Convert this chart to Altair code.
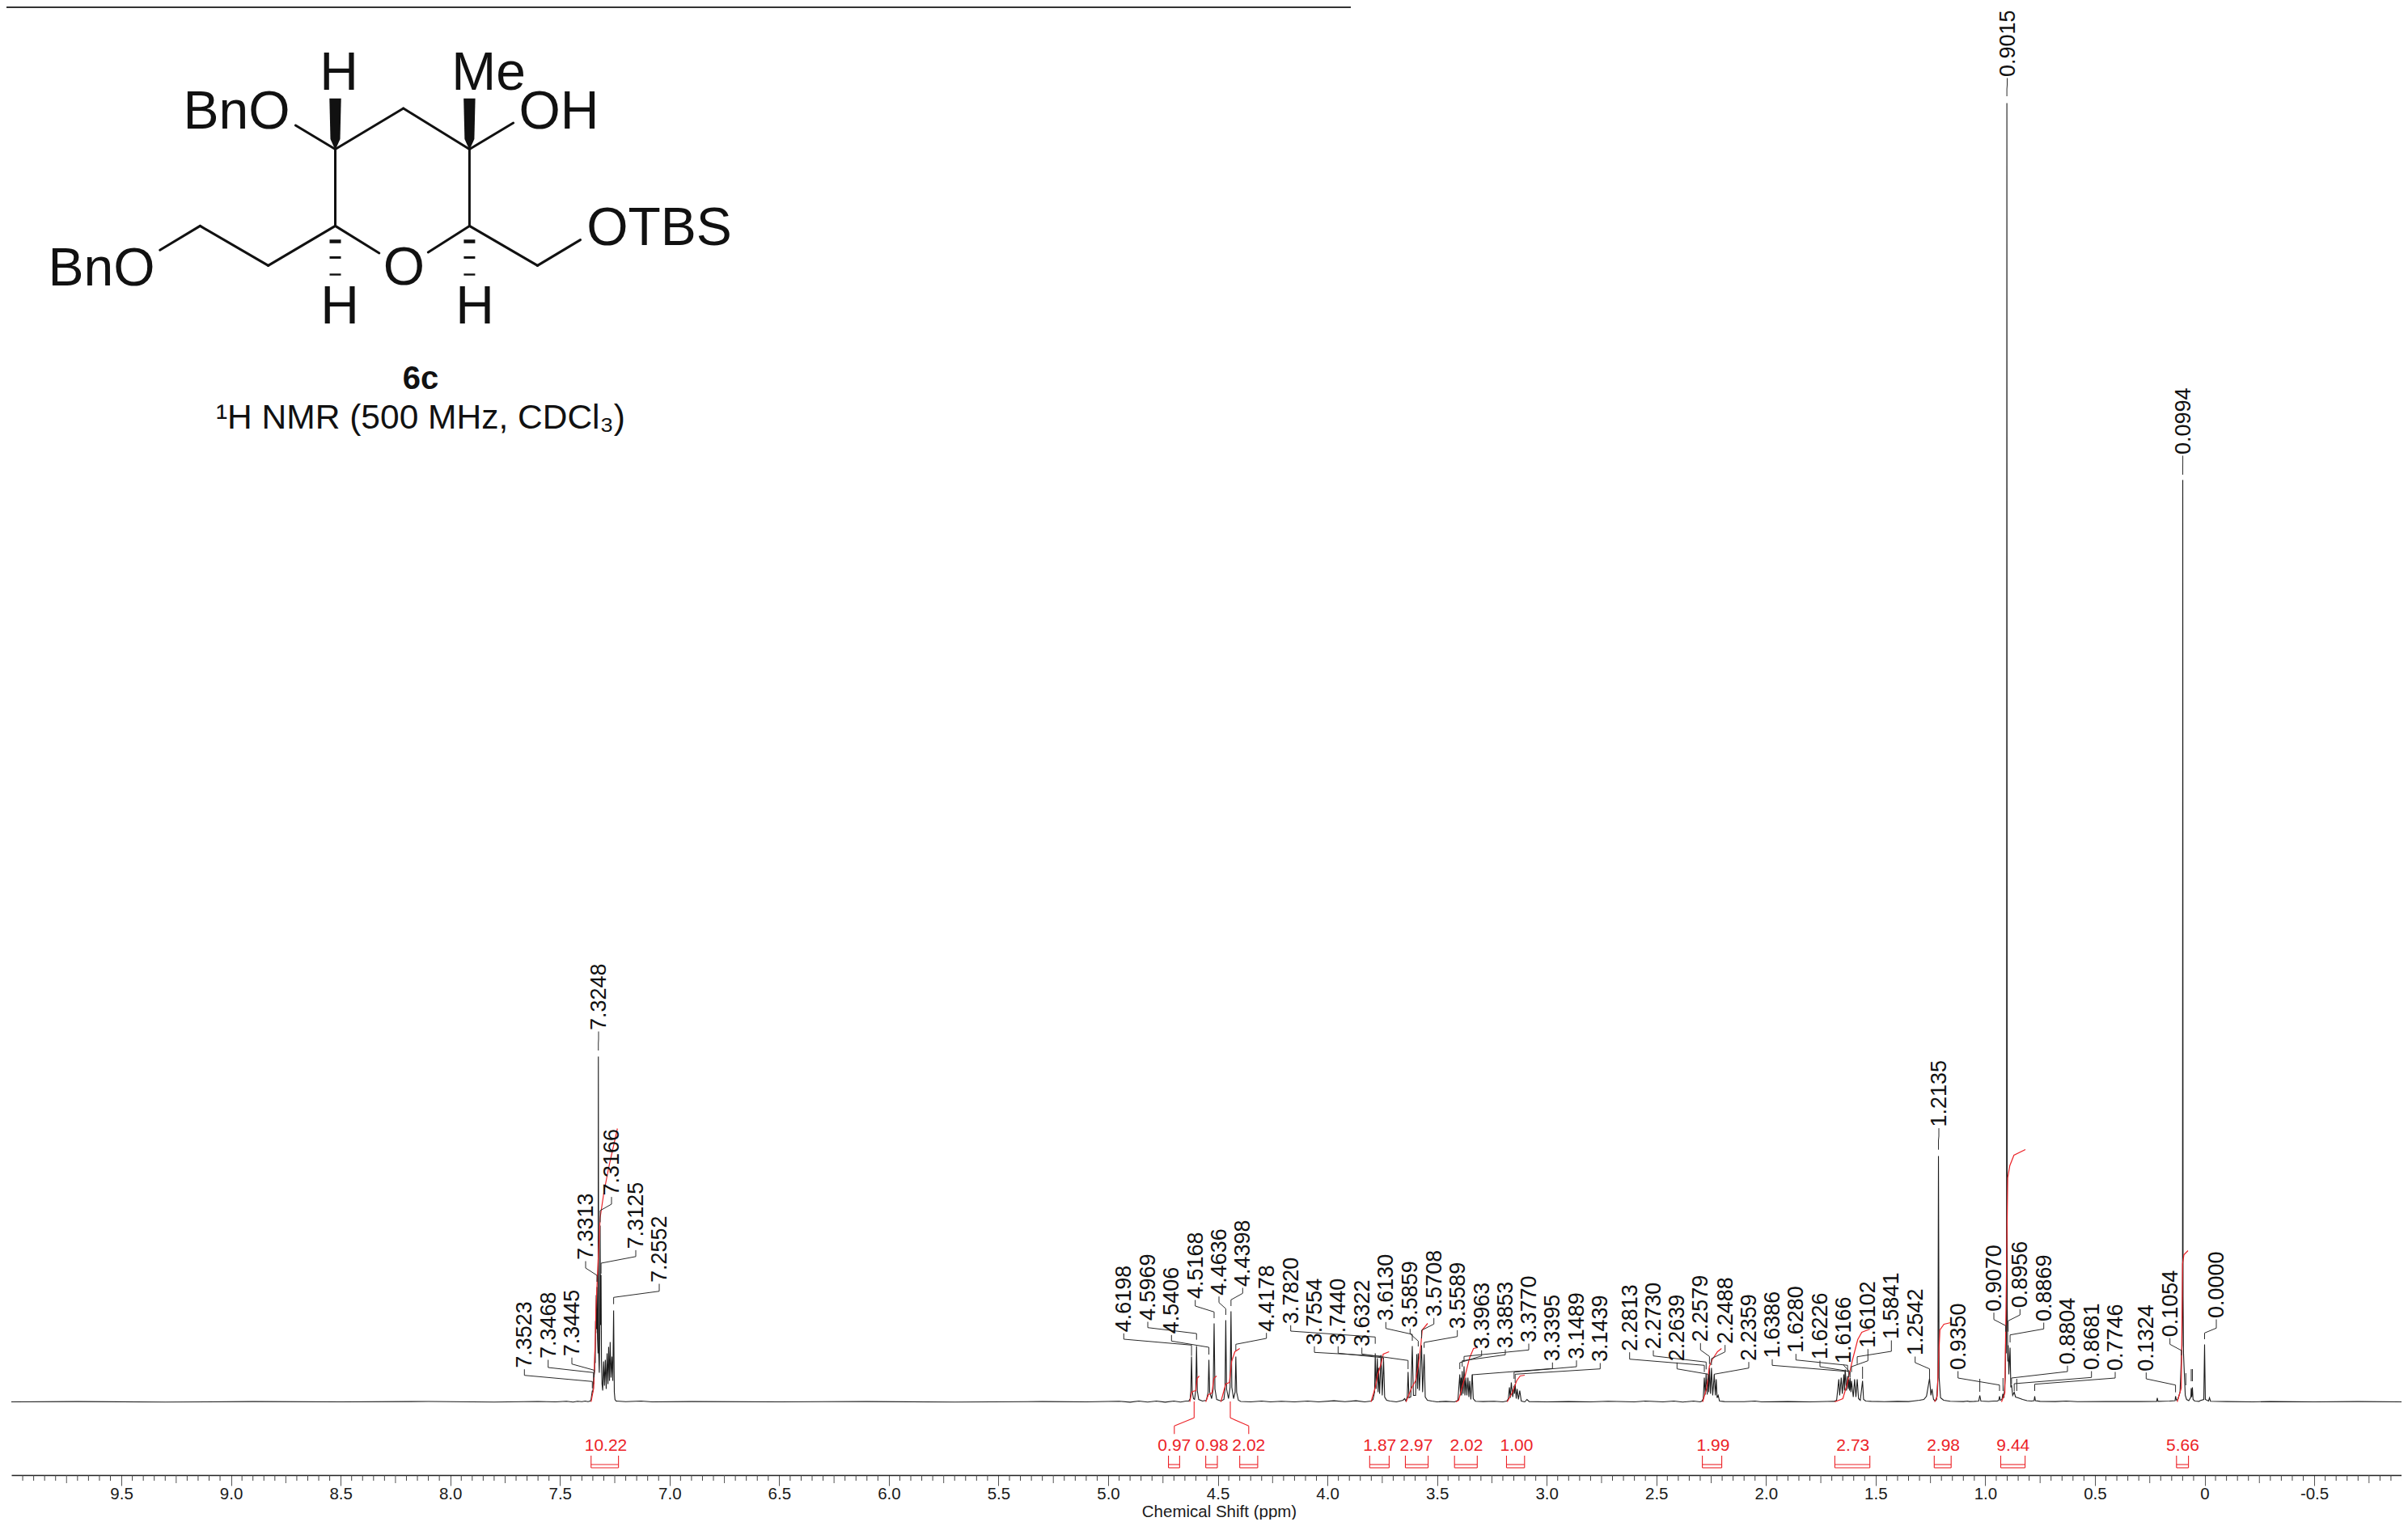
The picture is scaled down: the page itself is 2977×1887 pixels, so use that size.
import altair as alt
import pandas as pd

FONT = "Liberation Sans"
INK = "#1c1c1c"
RED = "#ec2227"
PLOT_W, PLOT_H = 2955, 1816
X_ZERO, PX_PER_PPM, LEFT, BASELINE, TOP = 2725.5, 271.1, 14, 1733.5, 8


def ppm_at(px):
    return (X_ZERO - px) / PX_PER_PPM


def val_at(py):
    return BASELINE - py


# ---------- spectrum, (ppm, height) ----------
noise_left = [(ppm_at(LEFT), 0), (9.7, 0.4), (9.3, -0.3), (8.9, 0.4), (8.5, 0), (8.1, 0.5), (7.8, -0.3), (7.6, 0.5),
              (7.52, 0), (7.47, 0.8), (7.44, -0.3)]
aromatic = [(7.42, 0.8), (7.40, 0.3), (7.385, 1), (7.372, 0.2), (7.362, 1), (7.358, 3), (7.3555, 8), (7.3523, 14),
            (7.350, 12), (7.3468, 27), (7.3457, 22), (7.3445, 32), (7.342, 38), (7.3405, 62), (7.339, 48),
            (7.3375, 100), (7.336, 85), (7.3345, 132), (7.3328, 90), (7.3313, 142), (7.3285, 78), (7.3262, 60),
            (7.3248, 427), (7.3232, 60), (7.3205, 36), (7.3185, 80), (7.3166, 218), (7.3150, 95), (7.3125, 157),
            (7.3105, 50), (7.308, 22), (7.305, 14), (7.301, 50), (7.297, 20), (7.293, 52), (7.289, 16), (7.285, 60),
            (7.281, 22), (7.278, 68), (7.274, 26), (7.271, 74), (7.267, 30), (7.263, 56), (7.259, 26), (7.2552, 113),
            (7.252, 12), (7.249, 3), (7.244, 1), (7.20, 0.3), (7.13, 1), (7.08, 0)]
noise_mid_1 = [(6.9, 0.4), (6.5, 0), (6.1, 0.4), (5.7, -0.2), (5.3, 0.4), (5.1, 0), (4.95, 0.8), (4.9, -0.4),
               (4.86, 1), (4.82, -0.3), (4.78, 1), (4.74, -0.4), (4.70, 1), (4.67, -0.3), (4.645, 1)]
benzylic = [(4.632, 1), (4.626, 4), (4.623, 13), (4.6198, 56), (4.6165, 13), (4.611, 4), (4.606, 3), (4.6005, 14),
            (4.5969, 69), (4.5935, 14), (4.587, 3), (4.570, 1), (4.552, 2), (4.544, 12), (4.5406, 52), (4.537, 12),
            (4.528, 4), (4.521, 16), (4.5168, 97), (4.513, 16), (4.505, 3), (4.485, 1), (4.472, 3), (4.467, 16),
            (4.4636, 101), (4.460, 16), (4.451, 4), (4.444, 18), (4.4398, 112), (4.436, 18), (4.428, 4), (4.421, 12),
            (4.4178, 56), (4.414, 12), (4.406, 2), (4.395, 0.5)]
noise_mid_2 = [(4.35, 0), (4.30, 1), (4.26, 0), (4.21, 0.8), (4.15, 0), (4.09, 1), (4.04, 0), (3.97, 1.4),
               (3.92, 0.2), (3.87, 1.4), (3.83, 0)]
methine_a = [(3.80, 1), (3.792, 3), (3.785, 12), (3.7820, 60), (3.778, 16), (3.7725, 54), (3.769, 12), (3.7670, 42),
             (3.762, 10), (3.7554, 58), (3.750, 8), (3.7440, 52), (3.739, 6), (3.730, 2), (3.715, 1), (3.685, 0),
             (3.655, 2), (3.648, 4), (3.642, 1), (3.636, 6), (3.6322, 37), (3.628, 5), (3.620, 6), (3.6130, 69),
             (3.608, 8), (3.598, 8), (3.5925, 59), (3.589, 16), (3.5859, 60), (3.581, 14), (3.5708, 70), (3.566, 12),
             (3.5589, 59), (3.554, 6), (3.544, 2), (3.525, 1), (3.50, 0), (3.46, 0.6)]
methine_b = [(3.42, 0), (3.405, 2), (3.3963, 34), (3.393, 8), (3.3905, 30), (3.388, 8), (3.3853, 38), (3.381, 10),
             (3.3770, 44), (3.373, 8), (3.3690, 30), (3.364, 8), (3.3595, 30), (3.355, 6), (3.3510, 26), (3.346, 3),
             (3.3395, 34), (3.335, 4), (3.325, 0.8), (3.29, 0.4), (3.24, 0.8), (3.20, 0), (3.182, 1), (3.175, 4),
             (3.170, 18), (3.166, 5), (3.1615, 24), (3.155, 6), (3.1489, 20), (3.147, 10), (3.1439, 22), (3.139, 4),
             (3.135, 16), (3.129, 3), (3.123, 14), (3.116, 1), (3.10, 0), (3.09, 3), (3.08, 0.4)]
noise_mid_3 = [(3.0, 0), (2.9, 0.4), (2.8, 0), (2.72, 0.8), (2.6, 0), (2.55, 1), (2.47, 0), (2.42, 1), (2.38, -0.3),
               (2.33, 1), (2.30, 0)]
methylene_a = [(2.292, 1), (2.286, 4), (2.2813, 30), (2.277, 9), (2.2730, 35), (2.268, 9), (2.2639, 34), (2.261, 12),
               (2.2579, 42), (2.253, 10), (2.2488, 42), (2.243, 8), (2.2359, 34), (2.231, 8), (2.2270, 28),
               (2.223, 5), (2.218, 8), (2.212, 1), (2.19, 0.4), (2.1, 0.2), (2.05, 1), (2.02, 0), (1.9, 0.4), (1.8, 0),
               (1.72, 0.5)]
methylene_b = [(1.69, 0.6), (1.678, 2), (1.668, 28), (1.664, 8), (1.657, 30), (1.652, 10), (1.645, 34), (1.642, 14),
               (1.6386, 40), (1.633, 14), (1.6280, 32), (1.625, 16), (1.6226, 28), (1.619, 14), (1.6166, 30),
               (1.613, 12), (1.6102, 26), (1.602, 6), (1.596, 28), (1.590, 6), (1.5841, 28), (1.578, 4), (1.570, 2),
               (1.5597, 26), (1.555, 3), (1.545, 1), (1.52, 0.6), (1.46, 0.2), (1.40, 0.6), (1.35, 0.4)]
methyl = [(1.33, 1), (1.30, 2), (1.28, 3), (1.268, 7), (1.2542, 29), (1.2480, 8), (1.2430, 16), (1.236, 3),
          (1.228, 1), (1.222, 3), (1.2160, 30), (1.2135, 304), (1.2105, 30), (1.204, 5), (1.19, 2), (1.16, 0.8),
          (1.10, 0.4), (1.08, 1), (1.073, 0.4), (1.05, 0.6), (1.03, 1), (1.025, 8), (1.02, 1), (0.985, 0.5),
          (0.96, 1)]
silyl_tbu = [(0.945, 1), (0.9385, 2), (0.9350, 7), (0.9315, 2), (0.924, 3), (0.9198, 10), (0.915, 5), (0.9090, 30),
             (0.9070, 80), (0.9045, 60), (0.9030, 120), (0.9015, 1606), (0.9000, 120), (0.8975, 50), (0.8956, 70),
             (0.8925, 34), (0.8869, 67), (0.8835, 18), (0.8804, 21), (0.875, 8), (0.8681, 12), (0.862, 6), (0.85, 5),
             (0.83, 3), (0.81, 1.5), (0.79, 1), (0.7775, 1.5), (0.7746, 7), (0.7715, 1.5), (0.75, 0.6), (0.68, 0.4),
             (0.63, 1), (0.58, 0.3), (0.45, 0.4)]
silyl_me = [(0.30, 0.4), (0.2185, 0.6), (0.2157, 5), (0.2125, 0.6), (0.19, 0.8), (0.16, 1), (0.1345, 1.5),
            (0.1324, 7), (0.128, 2), (0.122, 3), (0.112, 12), (0.1054, 57), (0.1025, 70), (0.1005, 130),
            (0.0994, 1140), (0.0980, 130), (0.096, 60), (0.0925, 36), (0.088, 8), (0.082, 3), (0.072, 1.5),
            (0.0625, 6), (0.0609, 17), (0.0585, 6), (0.0555, 18), (0.0525, 3), (0.045, 1), (0.025, 0.6), (0.0205, 1.5),
            (0.0035, 3), (0.0, 71), (-0.0035, 3), (-0.018, 1), (-0.0225, 5), (-0.027, 0.8)]
noise_right = [(-0.1, 0.4), (-0.22, 0), (-0.3, 0.4), (-0.5, 0), (-0.7, 0.4), (ppm_at(LEFT + PLOT_W), 0)]

spectrum_regions = [noise_left, aromatic, noise_mid_1, benzylic, noise_mid_2, methine_a, methine_b, noise_mid_3,
                    methylene_a, methylene_b, methyl, silyl_tbu, silyl_me, noise_right]
spectrum = pd.DataFrame(
    [p for region in spectrum_regions for p in region], columns=["ppm", "h"]
).assign(i=lambda d: range(len(d)))

# ---------- integrals, (ppm, curve height) ----------
integral_curves = [
    [(7.358, 0), (7.346, 17), (7.338, 84), (7.336, 114), (7.317, 227), (7.299, 260), (7.275, 293), (7.238, 338)],
    [(4.6275, 0), (4.619, 12), (4.6128, 13), (4.600, 14), (4.594, 29), (4.585, 32)],
    [(4.555, 0), (4.5427, 9), (4.5266, 11), (4.518, 29), (4.5057, 32)],
    [(4.486, 0), (4.464, 22), (4.447, 24), (4.437, 50), (4.422, 62), (4.40, 66)],
    [(3.8013, 0), (3.7826, 17), (3.7704, 34), (3.7555, 47), (3.7457, 59), (3.7189, 62)],
    [(3.6414, 0), (3.6168, 17), (3.598, 26), (3.586, 44), (3.5737, 71), (3.5677, 89), (3.5429, 97)],
    [(3.414, 0), (3.4016, 2), (3.3769, 27), (3.3524, 54), (3.3338, 66), (3.3154, 67)],
    [(3.1803, 0), (3.1557, 12), (3.1372, 26), (3.1213, 32), (3.1003, 33)],
    [(2.2888, 0), (2.2704, 17), (2.2581, 44), (2.2457, 52), (2.2213, 62), (2.2028, 66)],
    [(1.6864, 0), (1.6495, 4), (1.6311, 21), (1.6064, 51), (1.5817, 77), (1.5633, 86), (1.5264, 90)],
    [(1.2313, 0), (1.2191, 7), (1.2129, 54), (1.2068, 89), (1.1885, 96), (1.1576, 98)],
    [(0.9259, 0), (0.9107, 11), (0.8977, 277), (0.8882, 292), (0.8694, 305), (0.8171, 312)],
    [(0.1247, 0), (0.1062, 17), (0.1003, 171), (0.0941, 182), (0.0756, 187)],
]
integral_df = pd.DataFrame(
    [(k, j, p, h) for k, curve in enumerate(integral_curves) for j, (p, h) in enumerate(curve)],
    columns=["k", "j", "ppm", "h"],
)
integral_values = ["10.22", "0.97", "0.98", "2.02", "1.87", "2.97", "2.02", "1.00", "1.99", "2.73", "2.98", "9.44", "5.66"]
integral_from = [7.358, 4.725, 4.555, 4.400, 3.8074, 3.6445, 3.4205, 3.1834, 2.2903, 1.6861, 1.2328, 0.9296, 0.128]
integral_to = [7.233, 4.674, 4.502, 4.318, 3.7185, 3.5407, 3.3168, 3.1011, 2.2018, 1.5264, 1.1557, 0.8185, 0.0734]
integral_label_x = [749, 1451.8, 1498.2, 1543.8, 1705.8, 1750.9, 1812.9, 1875, 2117.9, 2290.8, 2402.6, 2488.8, 2698.5]
integral_leaders = [[(1476.3, 1733), (1476.3, 1753.3), (1451.8, 1763.2), (1451.8, 1773.2)],
                    [(1521, 1733), (1521, 1753.3), (1543.8, 1763.2), (1543.8, 1773.2)]]

# ---------- peak labels and the layout of their leaders ----------
peak_labels = ["7.3523", "7.3468", "7.3445", "7.3313", "7.3248", "7.3166", "7.3125", "7.2552",
               "4.6198", "4.5969", "4.5406", "4.5168", "4.4636", "4.4398", "4.4178",
               "3.7820", "3.7554", "3.7440", "3.6322", "3.6130", "3.5859", "3.5708", "3.5589",
               "3.3963", "3.3853", "3.3770", "3.3395", "3.1489", "3.1439",
               "2.2813", "2.2730", "2.2639", "2.2579", "2.2488", "2.2359",
               "1.6386", "1.6280", "1.6226", "1.6166", "1.6102", "1.5841", "1.2542", "1.2135",
               "0.9350", "0.9070", "0.9015", "0.8956", "0.8869", "0.8804", "0.8681", "0.7746",
               "0.1324", "0.1054", "0.0994", "0.0000"]
label_x_px = [648.3, 677.7, 707, 724, 740, 756, 786, 815,
              1389.3, 1419, 1448.3, 1477.7, 1507, 1536.3, 1565.7,
              1595.7, 1625, 1654.3, 1683.7, 1713.3, 1743.3, 1772.7, 1801.7,
              1831.7, 1861, 1890, 1919.3, 1949, 1978.3,
              2014.7, 2044, 2073.3, 2102.3, 2132.7, 2162,
              2191, 2220.3, 2250, 2279.3, 2309.3, 2338.3, 2367.7, 2397,
              2420.7, 2465, 2481.5, 2497.3, 2526.7, 2556, 2585.7, 2615,
              2653.3, 2682.7, 2698.6, 2740]
label_foot_y = [1691.7, 1680, 1677.3, 1558, 1274, 1478.6, 1544.4, 1586,
                1647.3, 1633, 1649.3, 1606, 1601.7, 1591, 1646.7,
                1637.3, 1663.3, 1663.3, 1665, 1633.3, 1641.7, 1628.3, 1643.3,
                1668.3, 1667.3, 1660, 1683.3, 1680.7, 1684,
                1670.7, 1668.3, 1683.3, 1659.3, 1661.7, 1682.7,
                1679.3, 1672.7, 1681, 1686, 1666.7, 1656, 1676, 1393.6,
                1694, 1621.7, 95, 1617.3, 1634, 1687.3, 1694, 1695,
                1695.7, 1653.3, 562, 1630]
elbow_a_y = [1700.7, 1691, 1686.7, 1568, 1285, 1489, 1553.8, 1596.7,
             1656, 1641.7, 1658.3, 1615, 1610.7, 1599.3, 1655,
             1646, 1672.3, 1673.3, 1674.3, 1642.7, 1649.3, 1637.3, 1652.7,
             1676.7, 1675.3, 1669.3, 1692.3, 1690, 1692.7,
             1680.7, 1676.7, 1692.7, 1669.3, 1671.7, 1691.7,
             1688.3, 1681.7, 1690, 1688.3, 1682.7, 1671, 1685, 1405,
             1704, 1631.7, 105, 1626, 1643.3, 1696, 1703.3, 1704,
             1705, 1662.3, 572, 1642.3]
elbow_b_y = [1708.3, 1697.3, 1694.3, 1577, 1290, 1497, 1562, 1604.3,
             1663.3, 1649, 1666, 1622.3, 1618.3, 1607.3, 1662.3,
             1653.3, 1677, 1679, 1682.3, 1650, 1658.3, 1645, 1660,
             1685, 1682.7, 1677.3, 1700, 1696.7, 1699.3,
             1688.3, 1684.3, 1699.3, 1677.3, 1680, 1699.3,
             1695.7, 1688.3, 1695.7, 1696.7, 1690, 1677.7, 1692.7, 1410,
             1712.7, 1639.3, 110, 1633.3, 1650.7, 1704, 1711, 1711.7,
             1712.7, 1670, 577, 1648.3]
stub_end_y = [1716.7, 1706.7, 1703.3, 1585, 1299, 1511.5, 1575, 1612.7,
              1676.7, 1656.7, 1675, 1630, 1626, 1615, 1670,
              1661.7, 1682, 1684, 1693, 1658, 1665, 1655, 1666.7,
              1693, 1690, 1683, 1710, 1705, 1710,
              1696.7, 1693.3, 1706.7, 1686.7, 1688, 1706.7,
              1703, 1696.7, 1703, 1703, 1696.7, 1686.7, 1705, 1421.7,
              1720, 1646.7, 119, 1646.7, 1660, 1711.7, 1720, 1720,
              1721.7, 1676, 587, 1656]

# stubs of markers whose labels are not on the page: ppm, then top and bottom on the page
orphan_stub_ppm = [1.5597, 1.025, 0.9192, 0.8565, 0.0855, 0.0609, 0.0555]
orphan_stub_top = [1690, 1705, 1704, 1705, 1698, 1693, 1693]
orphan_stub_end = [1705, 1721, 1720, 1720, 1713, 1708, 1708]

# ---------- molecule (page pixels) ----------
bonds = [
    (414.5, 184.5, 498.7, 134), (498.7, 134, 580.4, 184.5), (414.5, 184.5, 414.5, 279.4), (580.4, 184.5, 580.4, 279.4),
    (414.5, 279.4, 468.8, 313), (580.4, 279.4, 529.3, 312), (365.4, 155, 414.5, 184.5), (634.6, 152, 580.4, 184.5),
    (414.5, 279.4, 331.6, 328.4), (331.6, 328.4, 247.4, 279.4), (247.4, 279.4, 197.7, 309.2),
    (580.4, 279.4, 664.5, 328.4), (664.5, 328.4, 717.5, 296.6),
]
wedge_outline = [(121.7, 7.2), (172, 6), (184.5, 0.4)]
wedge_centres = [414.5, 580.4]
hashes = [(414.5, 298.5, 4.5), (414.5, 318.4, 3), (414.5, 339.5, 2.4),
          (580.4, 298.5, 4.5), (580.4, 318.4, 3), (580.4, 339.5, 2.4)]
atom_labels = [("BnO", 292.5, 136), ("H", 419, 88), ("Me", 604, 88), ("OH", 691, 136), ("OTBS", 815, 280),
               ("BnO", 125.5, 330), ("O", 499.4, 329), ("H", 420, 377), ("H", 587, 377)]
compound_name = "6c"
experiment = "¹H NMR (500 MHz, CDCl₃)"

# ---------- axis values ----------
major_ticks = [9.5, 9.0, 8.5, 8.0, 7.5, 7.0, 6.5, 6.0, 5.5, 5.0, 4.5, 4.0, 3.5, 3.0, 2.5, 2.0, 1.5, 1.0, 0.5, 0.0, -0.5]
medium_ticks = [k / 100 for k in range(975, -100, -50)]
minor_ticks = [k / 100 for k in range(995, -95, -5) if k % 25 != 0]

x_scale = alt.Scale(domain=[ppm_at(LEFT), ppm_at(LEFT + PLOT_W)], nice=False, zero=False)
y_scale = alt.Scale(domain=[val_at(TOP + PLOT_H), val_at(TOP)], nice=False, zero=False)
X = lambda f: alt.X(f, type="quantitative", scale=x_scale)
Y = lambda f: alt.Y(f, type="quantitative", scale=y_scale, axis=None)

# spectrum + axis
spectrum_layer = alt.Chart(spectrum).mark_line(color=INK, strokeWidth=1.1, clip=True).encode(
    x=alt.X(
        "ppm:Q", scale=x_scale,
        axis=alt.Axis(
            values=major_ticks, title="Chemical Shift (ppm)", grid=False, tickSize=13, tickColor="#555555",
            tickWidth=1, domainColor="#222222", domainWidth=1.4, labelFont=FONT, labelFontSize=20.5,
            labelColor="#1a1a1a", labelPadding=0,
            labelExpr="datum.value === 0 ? '0' : (datum.value < 0 ? '-' + format(-datum.value, '.1f') : format(datum.value, '.1f'))",
            labelOverlap=False, labelFlush=False, titleFont=FONT, titleFontSize=20.5, titleFontWeight="normal",
            titleColor="#1a1a1a", titleX=1493, titleY=45.5, titleAlign="center", titleBaseline="middle",
        ),
    ),
    y=Y("h"),
    order="i:Q",
)

tick_y = PLOT_H
medium_layer = alt.Chart(pd.DataFrame({"ppm": medium_ticks})).mark_rule(color="#555555", strokeWidth=1).encode(
    x=X("ppm"), y=alt.value(tick_y), y2=alt.value(tick_y + 10))
minor_layer = alt.Chart(pd.DataFrame({"ppm": minor_ticks})).mark_rule(color="#444444", strokeWidth=1).encode(
    x=X("ppm"), y=alt.value(tick_y), y2=alt.value(tick_y + 7))

# integrals
integral_layer = alt.Chart(integral_df).mark_line(color=RED, strokeWidth=1.2).encode(
    x=X("ppm"), y=Y("h"), detail="k:N", order="j:Q")
bar_rows = []
for a, b in zip(integral_from, integral_to):
    ya, yb, yc = val_at(1800), val_at(1811), val_at(1815)
    bar_rows += [(a, ya, a, yc), (b, ya, b, yc), (a, yb, b, yb), (a, yc, b, yc)]
for path in integral_leaders:
    for (x1, y1), (x2, y2) in zip(path, path[1:]):
        bar_rows.append((ppm_at(x1), val_at(y1), ppm_at(x2), val_at(y2)))
bars_layer = alt.Chart(pd.DataFrame(bar_rows, columns=["a", "ya", "b", "yb"])).mark_rule(
    color=RED, strokeWidth=1.1).encode(x=X("a"), x2="b:Q", y=Y("ya"), y2="yb:Q")
integral_text = alt.Chart(pd.DataFrame({
    "t": integral_values, "ppm": [ppm_at(v) for v in integral_label_x], "h": [val_at(1787.5)] * len(integral_values),
})).mark_text(font=FONT, fontSize=21, color=RED, baseline="middle", align="center").encode(
    x=X("ppm"), y=Y("h"), text="t:N")

# peak labels
leader_rows = []
for n, t in enumerate(peak_labels):
    top = label_foot_y[n] + 1.5
    path = [(ppm_at(label_x_px[n]), val_at(top)), (ppm_at(label_x_px[n]), val_at(elbow_a_y[n])),
            (float(t), val_at(elbow_b_y[n])), (float(t), val_at(stub_end_y[n]))]
    leader_rows += [(n, j, p, h) for j, (p, h) in enumerate(path)]
leader_layer = alt.Chart(pd.DataFrame(leader_rows, columns=["n", "j", "ppm", "h"])).mark_line(
    color="#2a2a2a", strokeWidth=1).encode(x=X("ppm"), y=Y("h"), detail="n:N", order="j:Q")
orphan_layer = alt.Chart(pd.DataFrame({
    "ppm": orphan_stub_ppm, "a": [val_at(v) for v in orphan_stub_top], "b": [val_at(v) for v in orphan_stub_end],
})).mark_rule(color="#2a2a2a", strokeWidth=1).encode(x=X("ppm"), y=Y("a"), y2="b:Q")
label_layer = alt.Chart(pd.DataFrame({
    "t": peak_labels, "ppm": [ppm_at(v + 1) for v in label_x_px], "h": [val_at(v) for v in label_foot_y],
})).mark_text(font=FONT, fontSize=27, angle=270, align="left", baseline="middle", color="#111111").encode(
    x=X("ppm"), y=Y("h"), text="t:N")

# molecule
bond_layer = alt.Chart(pd.DataFrame(
    [(ppm_at(a), val_at(b), ppm_at(c), val_at(d)) for a, b, c, d in bonds], columns=["a", "ya", "b", "yb"]
)).mark_rule(color="#111111", strokeWidth=3, strokeCap="round").encode(x=X("a"), x2="b:Q", y=Y("ya"), y2="yb:Q")
wedge_rows = []
for k, cx in enumerate(wedge_centres):
    wedge_rows += [(k, val_at(y_w), ppm_at(cx - half), ppm_at(cx + half)) for y_w, half in wedge_outline]
wedge_layer = alt.Chart(pd.DataFrame(wedge_rows, columns=["k", "h", "a", "b"])).mark_area(
    color="#111111", orient="horizontal").encode(x=X("a"), x2="b:Q", y=Y("h"), detail="k:N")
hash_layer = alt.Chart(pd.DataFrame(
    [(ppm_at(c - 7), ppm_at(c + 7), val_at(y), w) for c, y, w in hashes], columns=["a", "b", "h", "w"]
)).mark_rule(color="#111111").encode(
    x=X("a"), x2="b:Q", y=Y("h"), strokeWidth=alt.StrokeWidth("w:Q", scale=None, legend=None))
atom_layer = alt.Chart(pd.DataFrame({
    "t": [a[0] for a in atom_labels], "ppm": [ppm_at(a[1]) for a in atom_labels], "h": [val_at(a[2]) for a in atom_labels],
})).mark_text(font=FONT, fontSize=66, baseline="middle", align="center", color="#111111", dy=3).encode(
    x=X("ppm"), y=Y("h"), text="t:N")
name_layer = alt.Chart(pd.DataFrame({"t": [compound_name], "ppm": [ppm_at(520)], "h": [val_at(469)]})).mark_text(
    font=FONT, fontSize=40, fontWeight="bold", baseline="middle", align="center", color="#111111").encode(
    x=X("ppm"), y=Y("h"), text="t:N")
exp_layer = alt.Chart(pd.DataFrame({"t": [experiment], "ppm": [ppm_at(520)], "h": [val_at(517)]})).mark_text(
    font=FONT, fontSize=42.5, baseline="middle", align="center", color="#111111").encode(
    x=X("ppm"), y=Y("h"), text="t:N")

# the rule along the top edge of the page
top_rule = alt.Chart(pd.DataFrame({"a": [ppm_at(8)], "b": [ppm_at(1670)], "h": [val_at(TOP + 1)]})).mark_rule(
    color="#333333", strokeWidth=2).encode(x=X("a"), x2="b:Q", y=Y("h"))

chart = alt.layer(
    spectrum_layer, medium_layer, minor_layer, integral_layer, bars_layer, integral_text, leader_layer, orphan_layer,
    label_layer, bond_layer, wedge_layer, hash_layer, atom_layer, name_layer, exp_layer, top_rule,
).properties(
    width=PLOT_W, height=PLOT_H, padding={"left": LEFT - 8, "top": 0, "right": 0, "bottom": 55},
    autosize=alt.AutoSizeParams(type="none"),
    background="white",
).configure_view(stroke=None)

chart.save("out.html", embed_options={"renderer": "svg", "actions": False})
